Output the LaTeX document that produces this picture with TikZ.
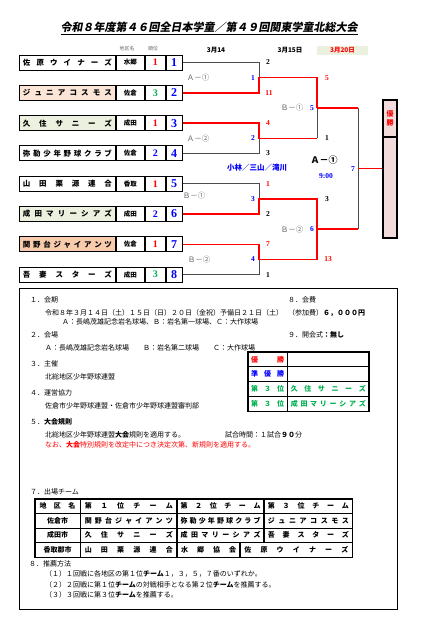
\documentclass[tikz,border=0pt]{standalone}
\usepackage{fontspec}
\setmainfont{Noto Sans CJK JP}
\newfontfamily\titlefont{Noto Sans CJK JP}[FakeSlant=0.18]
\newfontfamily\numfont{Liberation Serif}
\usetikzlibrary{positioning}

\definecolor{peach}{RGB}{251,229,214}
\definecolor{peachdark}{RGB}{248,203,173}
\definecolor{sage}{RGB}{235,241,222}
\definecolor{rosefill}{RGB}{242,220,219}
\definecolor{okgreen}{RGB}{0,176,80}
\definecolor{numblue}{RGB}{0,0,255}

% spread the letters of a name over a given width
\def\spacedfirst#1{#1\spacedrest}
\def\spacedrest#1{\ifx\relax#1\else\hfill#1\expandafter\spacedrest\fi}
\newcommand\spaced[2]{\makebox[#1][s]{\expandafter\spacedfirst#2\relax}}

\begin{document}
\begin{tikzpicture}[x=1pt, y=-1pt,
    cell/.style={draw, line width=0.9pt, minimum height=15pt, inner sep=0pt},
    teambox/.style={cell, minimum width=96pt, anchor=west, font=\bfseries\fontsize{7.5}{8}\selectfont},
    distbox/.style={cell, minimum width=28pt, fill=white, font=\bfseries\fontsize{6.5}{7}\selectfont},
    rankbox/.style={cell, minimum width=20pt, fill=white, font=\numfont\bfseries\fontsize{10}{10}\selectfont},
    numbox/.style={cell, minimum width=16pt, fill=white, text=numblue, font=\numfont\bfseries\fontsize{12}{12}\selectfont},
    loseline/.style={draw=black!70, line width=0.8pt},
    winline/.style={draw=red, line width=1.5pt},
    score/.style={inner sep=0pt, font=\numfont\bfseries\fontsize{7.5}{8}\selectfont},
    match/.style={inner sep=0pt, text=black!60, font=\fontsize{7.5}{8}\selectfont},
    txt/.style={anchor=west, inner sep=0pt, font=\fontsize{7}{8}\selectfont},
    tcell/.style={draw, line width=0.8pt, minimum height=14.5pt, inner sep=0pt, font=\bfseries\fontsize{7}{8}\selectfont},
    rcell/.style={draw, line width=0.8pt, minimum height=14.75pt, inner sep=0pt, font=\bfseries\fontsize{7}{8}\selectfont}
]
\useasboundingbox (0,0) rectangle (440,623);

% title and dates
\node[font=\titlefont\bfseries\fontsize{11}{12}\selectfont] (title) at (209,28) {\underline{令和８年度第４６回全日本学童／第４９回関東学童北総大会}};
\node[inner sep=0pt, text=black!60, font=\fontsize{5}{6}\selectfont] (hdist) at (127,49) {地区名};
\node[inner sep=0pt, text=black!60, font=\fontsize{5}{6}\selectfont] (hrank) at (153,49) {順位};
\node[inner sep=0pt, font=\bfseries\fontsize{6.5}{7}\selectfont] (day1) at (216,50) {3月14};
\node[inner sep=0pt, font=\bfseries\fontsize{6.5}{7}\selectfont] (day2) at (290,50) {3月15日};
\node[fill=sage, minimum width=51pt, minimum height=9pt, inner sep=0pt, text=red, font=\bfseries\fontsize{6.5}{7}\selectfont] (day3) at (342.5,50.5) {3月20日};

% teams
\foreach \i/\nm/\fl/\dist/\rk/\rkc in {
    1/佐原ウイナーズ/white/水郷/1/red,
    2/ジュニアコスモス/peach/佐倉/3/okgreen,
    3/久住サニーズ/sage/成田/1/red,
    4/弥勒少年野球クラブ/white/佐倉/2/numblue,
    5/山田栗源連合/white/香取/1/red,
    6/成田マリーシアズ/sage/成田/2/numblue,
    7/関野台ジャイアンツ/peachdark/佐倉/1/red,
    8/吾妻スターズ/white/成田/3/okgreen}{
  \pgfmathsetmacro\yy{62.5+30.3*(\i-1)}
  \node[teambox, fill=\fl] (t\i) at (19,\yy) {\spaced{89pt}{\nm}};
  \node[distbox, right=0pt of t\i] (d\i) {\dist};
  \node[rankbox, right=0pt of d\i, text=\rkc] (r\i) {\rk};
  \node[numbox, right=0pt of r\i] (n\i) {\i};
}

% bracket joints
\coordinate (jA1) at (259,77.65);
\coordinate (jA2) at (259,138.25);
\coordinate (jB1) at (259,198.85);
\coordinate (jB2) at (259,259.45);
\coordinate (jS1) at (317,107.95);
\coordinate (jS2) at (317,229.15);
\coordinate (jF) at (358,168.55);

% champion box
\node[draw, line width=2.2pt, fill=rosefill, minimum width=14pt, minimum height=138pt, inner sep=0pt] (champ) at (390,169) {};
\draw[line width=2.2pt] ([yshift=-38pt]champ.north west) -- ([yshift=-38pt]champ.north east);
\node[text=red, align=center, inner sep=0pt, font=\bfseries\fontsize{7}{9}\selectfont] (champlab) at ([yshift=-19pt]champ.north) {優\\勝};

\draw[loseline] (n1.east) -| (jA1);
\draw[loseline] (n4.east) -| (jA2);
\draw[loseline] (jA2 -| jS1) -- (jS1);
\draw[loseline] (n5.east) -| (jB1);
\draw[loseline] (n8.east) -| (jB2);
\draw[loseline] (jS1 -| jF) -- (jS2 -| jF);
\draw[winline] (n2.east) -| (jA1) -| (jS1);
\draw[winline] (n3.east) -| (jA2) -- (jA2 -| jS1);
\draw[winline] (n6.east) -| (jB1) -| (jS2);
\draw[winline] (n7.east) -| (jB2) -| (jS2);
\draw[winline] (jS1) -- (jS1 -| jF);
\draw[winline] (jS2) -- (jS2 -| jF);
\draw[winline] (jF) -- (jF -| champ.west);

% scores and match numbers
\node[score] (s1) at (268,62.5) {2};
\node[score, text=red] (s2) at (269,92.8) {11};
\node[score, text=red] (s3) at (268,123.1) {4};
\node[score] (s4) at (268,153.4) {3};
\node[score, text=red] (s5) at (268,183.7) {1};
\node[score] (s6) at (268,214) {2};
\node[score, text=red] (s7) at (268,244.3) {7};
\node[score] (s8) at (268,274.6) {1};
\node[score, text=red] (s9) at (327,77.65) {5};
\node[score] (s10) at (327,138.25) {1};
\node[score] (s11) at (327,198.85) {3};
\node[score, text=red] (s12) at (328,259.45) {13};
\node[score, text=numblue] (m1) at (253,77.65) {1};
\node[score, text=numblue] (m2) at (253,138.25) {2};
\node[score, text=numblue] (m3) at (253,198.85) {3};
\node[score, text=numblue] (m4) at (253,259.45) {4};
\node[score, text=numblue] (m5) at (312,107.95) {5};
\node[score, text=numblue] (m6) at (312,229.15) {6};
\node[score, text=numblue] (m7) at (353,168.55) {7};
\node[match] (gA1) at (198,77.65) {Ａ－①};
\node[match] (gA2) at (198,138.25) {Ａ－②};
\node[match] (gB1) at (194,196) {Ｂ－①};
\node[match] (gB2) at (199,259.45) {Ｂ－②};
\node[match] (gS1) at (292,107.95) {Ｂ－①};
\node[match] (gS2) at (292,229.15) {Ｂ－②};
\node[inner sep=0pt, font=\bfseries\fontsize{9}{10}\selectfont] (gF) at (324,160) {Ａ－①};
\node[inner sep=0pt, text=numblue, font=\numfont\bfseries\fontsize{7.5}{8}\selectfont] (tF) at (326,176) {9:00};
\node[inner sep=0pt, text=numblue, font=\bfseries\fontsize{7.5}{8}\selectfont] (umps) at (257,168) {小林／三山／滝川};

% information
\node[draw, line width=1.2pt, minimum width=378pt, minimum height=321pt, anchor=north west] (info) at (19,288) {};
\node[txt] (h1) at (30,300) {１．会期};
\node[txt] (h8) at (288,300) {８．会費};
\node[txt] (l1) at (45,313) {令和８年３月１４日（土）１５日（日）２０日（金祝）予備日２１日（土）};
\node[txt] (fee) at (288,313) {（参加費）\textbf{６，０００円}};
\node[txt] (l2) at (62,322) {Ａ：長嶋茂雄記念岩名球場、Ｂ：岩名第一球場、Ｃ：大作球場};
\node[txt] (h2) at (30,335) {２．会場};
\node[txt] (h9) at (288,335) {９．開会式\textbf{：無し}};
\node[txt] (l3) at (45,348) {Ａ：長嶋茂雄記念岩名球場　　Ｂ：岩名第二球場　　Ｃ：大作球場};
\node[txt] (h3) at (30,364) {３．主催};
\node[txt] (l4) at (45,377) {北総地区少年野球連盟};
\node[txt] (h4) at (30,393) {４．運営協力};
\node[txt] (l5) at (45,406) {佐倉市少年野球連盟・佐倉市少年野球連盟審判部};
\node[txt] (h5) at (30,422) {５．\textbf{大会規則}};
\node[txt] (l6) at (45,435) {北総地区少年野球連盟\textbf{大会}規則を適用する。};
\node[txt] (l7) at (225,435) {試合時間：１試合\textbf{９０}分};
\node[txt, text=red] (l8) at (45,445) {なお、\textbf{大会}特別規則を改定中につき決定次第、新規則を適用する。};

% results
\node[rcell, minimum width=39pt, text=red] (p1) at (267.5,359.375) {\spaced{33pt}{優勝}};
\node[rcell, minimum width=81pt, right=0pt of p1] (q1) {};
\node[rcell, minimum width=39pt, text=numblue] (p2) at (267.5,374.125) {\spaced{33pt}{準優勝}};
\node[rcell, minimum width=81pt, right=0pt of p2] (q2) {};
\node[rcell, minimum width=39pt, text=okgreen] (p3) at (267.5,388.875) {\spaced{33pt}{第３位}};
\node[rcell, minimum width=81pt, right=0pt of p3, text=okgreen] (q3) {\spaced{75pt}{久住サニーズ}};
\node[rcell, minimum width=39pt, text=okgreen] (p4) at (267.5,403.625) {\spaced{33pt}{第３位}};
\node[rcell, minimum width=81pt, right=0pt of p4, text=okgreen] (q4) {\spaced{75pt}{成田マリーシアズ}};
\draw[line width=1.3pt] (p1.north west) rectangle (q4.south east);

% entry list
\node[txt] (h7) at (30,492) {７．出場チーム};
\foreach \row/\area/\ta/\tb/\tc in {
    0/地区名/第１位チーム/第２位チーム/第３位チーム,
    1/佐倉市/関野台ジャイアンツ/弥勒少年野球クラブ/ジュニアコスモス,
    2/成田市/久住サニーズ/成田マリーシアズ/吾妻スターズ}{
  \pgfmathsetmacro\yy{506.25+14.5*\row}
  \node[tcell, minimum width=45pt] (ga\row) at (57.5,\yy) {\ifnum\row=0 \spaced{36pt}{\area}\else\area\fi};
  \node[tcell, minimum width=96pt, right=0pt of ga\row] (gb\row) {\spaced{88pt}{\ta}};
  \node[tcell, minimum width=86pt, right=0pt of gb\row] (gc\row) {\spaced{80pt}{\tb}};
  \node[tcell, minimum width=88pt, right=0pt of gc\row] (gd\row) {\spaced{81pt}{\tc}};
}
\node[tcell, minimum width=45pt] (ga3) at (57.5,549.75) {香取郡市};
\node[tcell, minimum width=96pt, right=0pt of ga3] (gb3) {\spaced{88pt}{山田栗源連合}};
\node[tcell, minimum width=62pt, right=0pt of gb3] (gc3) {\spaced{55pt}{水郷協会}};
\node[tcell, minimum width=112pt, right=0pt of gc3] (gd3) {\spaced{104pt}{佐原ウイナーズ}};
\draw[line width=1.2pt] (ga0.north west) rectangle (gd3.south east);

\node[txt] (h8b) at (29,564) {８．推薦方法};
\node[txt] (r1) at (45,574) {（１）１回戦に各地区の第１位\textbf{チーム}１，３，５，７番のいずれか。};
\node[txt] (r2) at (45,585) {（２）２回戦に第１位\textbf{チーム}の対戦相手となる第２位\textbf{チーム}を推薦する。};
\node[txt] (r3) at (45,595) {（３）３回戦に第３位\textbf{チーム}を推薦する。};
\end{tikzpicture}
\end{document}
